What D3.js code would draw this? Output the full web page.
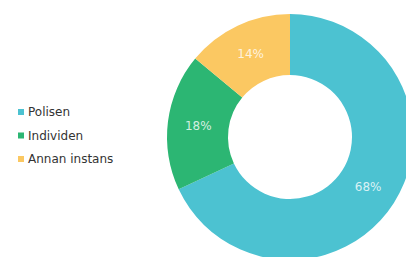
<!DOCTYPE html>
<html><head><meta charset="utf-8">
<script src="https://cdn.jsdelivr.net/npm/d3@7"></script>
<style>html,body{margin:0;padding:0;background:#fff;overflow:hidden}</style>
</head><body><svg id="c" width="406" height="257"></svg>
<script>
const categories = ["Polisen", "Individen", "Annan instans"];
const values = [68, 18, 14];
const colors = ["#4cc2d1", "#2cb673", "#fbc862"];

const svg = d3.select("#c");
const cx = 290, cy = 137, R = 123, r = 62;
const pie = d3.pie().sort(null).value(d => d)(values);
const arc = d3.arc().innerRadius(r).outerRadius(R);
const g = svg.append("g").attr("transform", `translate(${cx},${cy})`);
g.selectAll("path").data(pie).join("path")
  .attr("d", arc).attr("fill", (d, i) => colors[i]);
g.selectAll("text").data(pie).join("text")
  .attr("transform", d => `translate(${arc.centroid(d)})`)
  .attr("text-anchor", "middle").attr("dy", "0.35em")
  .attr("font-family", "DejaVu Sans, Verdana, sans-serif").attr("font-size", 12)
  .attr("fill", "#ffffff").attr("fill-opacity", 0.8)
  .text(d => d.data + "%");

const leg = svg.append("g").attr("transform", "translate(18,112)");
const y = d3.scalePoint().domain(categories).range([0, 47]);
const rows = leg.selectAll("g").data(categories).join("g")
  .attr("transform", d => `translate(0,${y(d)})`);
rows.append("rect").attr("x", 0).attr("y", -3).attr("width", 6).attr("height", 6)
  .attr("fill", (d, i) => colors[i]);
rows.append("text").attr("x", 10).attr("dy", "0.35em")
  .attr("font-family", "DejaVu Sans, Verdana, sans-serif").attr("font-size", 12)
  .attr("fill", "#333").text(d => d);
</script></body></html>
